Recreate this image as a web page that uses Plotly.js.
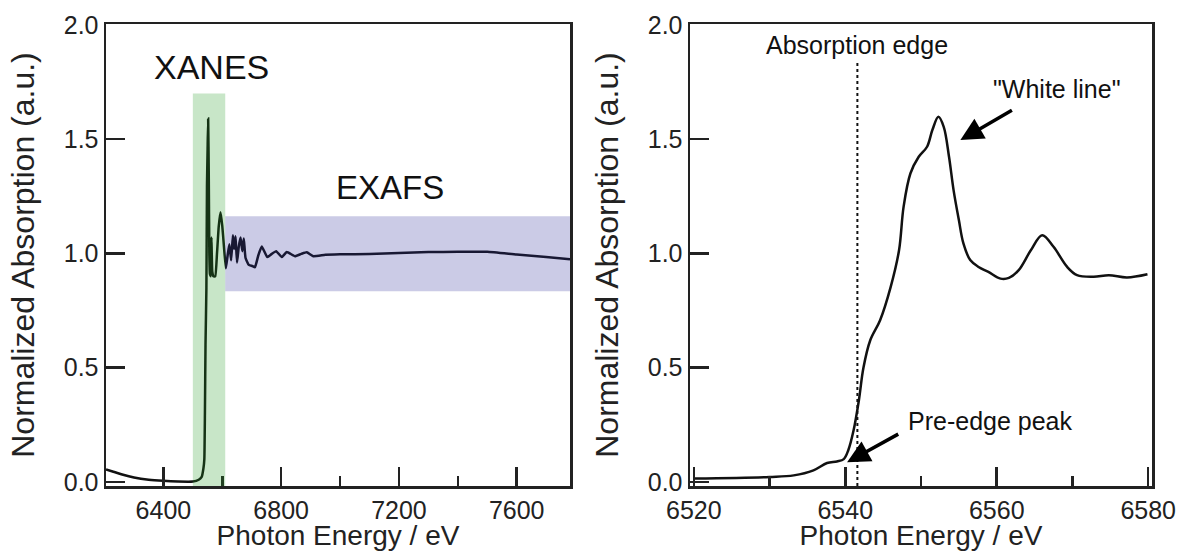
<!DOCTYPE html>
<html>
<head>
<meta charset="utf-8">
<script src="https://cdn.plot.ly/plotly-3.0.1.min.js"></script>
<style>html,body{margin:0;padding:0;background:#fff;}#chart{width:1178px;height:551px;}</style>
</head>
<body>
<div id="chart"></div>
<script>
// Left panel: full XAFS spectrum
const wideEnergy = [
  6205, 6230, 6260, 6300, 6350, 6400, 6450, 6500, 6520, 6530,
  6536, 6539, 6541, 6543, 6546, 6548, 6550, 6552, 6554, 6556,
  6558, 6561, 6563, 6566, 6570, 6576, 6582, 6588, 6594, 6600,
  6605, 6612, 6618, 6624, 6630, 6636, 6640, 6645, 6650, 6656,
  6662, 6668, 6673, 6679, 6690, 6702, 6711, 6722, 6734, 6753,
  6768, 6783, 6802, 6819, 6847, 6868, 6887, 6909, 6950, 7000,
  7100, 7200, 7300, 7400, 7500, 7600, 7700, 7781];
const wideAbs = [
  0.055, 0.045, 0.033, 0.020, 0.010, 0.005, 0.002, 0.002, 0.010, 0.022,
  0.060, 0.100, 0.300, 0.600, 0.850, 1.300, 1.450, 1.590, 1.350, 1.000,
  0.910, 0.900, 1.070, 0.920, 0.900, 0.900, 1.000, 1.120, 1.180, 1.120,
  1.040, 0.935, 0.990, 1.040, 0.970, 1.080, 1.020, 1.075, 0.960, 1.030,
  1.070, 1.010, 1.065, 0.980, 0.950, 0.945, 0.940, 0.990, 1.030, 0.984,
  0.998, 1.010, 0.984, 1.006, 0.988, 0.998, 1.005, 0.988, 0.994, 0.996,
  0.998, 1.002, 1.006, 1.007, 1.007, 0.995, 0.985, 0.975];
// Right panel: XANES region
const edgeEnergy = [6520,6530,6533.2,6535.8,6537.6,6538.9,6539.8,6540.4,6541.1,6541.8,6542.4,6543.3,6544.6,6546,6547.1,6547.7,6548.6,6549.7,6550.8,6551.5,6552.3,6553,6553.7,6554.3,6555,6555.6,6556.5,6557.6,6558.9,6560.5,6561.6,6562.9,6564.5,6566,6567.5,6569.3,6570.6,6572.8,6574.8,6577.2,6579.9];
const edgeAbs = [0.015,0.022,0.029,0.051,0.083,0.090,0.100,0.139,0.226,0.358,0.500,0.620,0.708,0.854,1.014,1.204,1.350,1.423,1.467,1.540,1.598,1.554,1.423,1.277,1.146,1.044,0.971,0.941,0.919,0.890,0.893,0.927,1.014,1.080,1.029,0.941,0.905,0.898,0.905,0.895,0.909];
const yTicks = [0, 0.5, 1.0, 1.5, 2.0];
const yTickText = ["0.0", "0.5", "1.0", "1.5", "2.0"];
const xanesBand = [6500, 6610, 1.70];
const exafsBand = [6610, 7781, 0.835, 1.163];
const edgePosition = 6541.6;

const FONT = "Liberation Sans, Arial, Helvetica, sans-serif";
const AX = "#222";

const traces = [
  {x: wideEnergy, y: wideAbs, xaxis: 'x', yaxis: 'y', mode: 'lines',
   line: {color: '#111', width: 2.5, shape: 'spline', smoothing: 0.4}, hoverinfo: 'skip'},
  {x: edgeEnergy, y: edgeAbs, xaxis: 'x2', yaxis: 'y2', mode: 'lines',
   line: {color: '#111', width: 2.5, shape: 'spline', smoothing: 1}, hoverinfo: 'skip'}
];

function yax(anchor) {
  return {anchor: anchor, range: [-0.0175, 2.004], tickvals: yTicks, ticktext: yTickText,
    ticks: 'inside', ticklen: 19, tickwidth: 2.5, tickcolor: AX,
    showline: true, linecolor: AX, linewidth: 2.5, mirror: true, showgrid: false, zeroline: false,
    tickfont: {family: FONT, size: 25, color: '#222'},
    title: {text: 'Normalized Absorption (a.u.)', font: {family: FONT, size: 32, color: '#222'}, standoff: 20}};
}

function xax(domain, anchor, range, tick0, dtick, minorDtick) {
  return {domain: domain, anchor: anchor, range: range,
    tick0: tick0, dtick: dtick, ticks: 'inside', ticklen: 19, tickwidth: 2.5, tickcolor: AX,
    minor: {dtick: minorDtick, ticks: 'inside', ticklen: 10, tickwidth: 2.5, tickcolor: AX, showgrid: false},
    showline: true, linecolor: AX, linewidth: 2.5, mirror: true, showgrid: false, zeroline: false,
    tickfont: {family: FONT, size: 25, color: '#222'}, ticklabelstandoff: 0,
    title: {text: 'Photon Energy / eV', font: {family: FONT, size: 28, color: '#222'}, standoff: 2}};
}

const layout = {
  width: 1178, height: 551,
  margin: {l: 0, r: 0, t: 24, b: 65},
  paper_bgcolor: '#fff', plot_bgcolor: '#fff',
  showlegend: false,
  xaxis: xax([106/1178, 570/1178], 'y', [6205, 7781], 6400, 400, 200),
  yaxis: yax('x'),
  xaxis2: xax([690/1178, 1152/1178], 'y2', [6519.5, 6580.5], 6520, 20, 10),
  yaxis2: yax('x2'),
  shapes: [
    {type: 'rect', xref: 'x', yref: 'y', x0: xanesBand[0], x1: xanesBand[1], y0: -0.0175, y1: xanesBand[2],
     fillcolor: 'rgb(35,155,35)', opacity: 0.25, line: {width: 0}, layer: 'above'},
    {type: 'rect', xref: 'x', yref: 'y', x0: exafsBand[0], x1: exafsBand[1], y0: exafsBand[2], y1: exafsBand[3],
     fillcolor: 'rgb(47,47,155)', opacity: 0.25, line: {width: 0}, layer: 'above'},
    {type: 'line', xref: 'x2', yref: 'y2', x0: edgePosition, x1: edgePosition, y0: -0.0175, y1: 1.84,
     line: {color: '#111', width: 2, dash: 'dot'}}
  ],
  annotations: [
    {xref: 'x', yref: 'y', x: 6563, y: 1.816, text: 'XANES', showarrow: false,
     font: {family: FONT, size: 34, color: '#111'}},
    {xref: 'x', yref: 'y', x: 7171, y: 1.29, text: 'EXAFS', showarrow: false,
     font: {family: FONT, size: 33, color: '#111'}},
    {xref: 'x2', yref: 'y2', x: edgePosition, y: 1.912, text: 'Absorption edge', showarrow: false,
     font: {family: FONT, size: 25, color: '#111'}},
    {xref: 'x2', yref: 'y2', x: 6567.9, y: 1.72, text: '"White line"', showarrow: false,
     font: {family: FONT, size: 25, color: '#111'}},
    {xref: 'x2', yref: 'y2', x: 6559.2, y: 0.266, text: 'Pre-edge peak', showarrow: false,
     font: {family: FONT, size: 25, color: '#111'}},
    {xref: 'x2', yref: 'y2', x: 6555.2, y: 1.496, ax: 6562.2, ay: 1.630, axref: 'x2', ayref: 'y2',
     text: '', showarrow: true, arrowhead: 2, arrowsize: 1.3, arrowwidth: 3.5, arrowcolor: '#000', standoff: 0},
    {xref: 'x2', yref: 'y2', x: 6540.24, y: 0.086, ax: 6547.19, ay: 0.213, axref: 'x2', ayref: 'y2',
     text: '', showarrow: true, arrowhead: 2, arrowsize: 1.3, arrowwidth: 3.5, arrowcolor: '#000', standoff: 0}
  ]
};

Plotly.newPlot('chart', traces, layout, {staticPlot: true, displayModeBar: false});
</script>
</body>
</html>
